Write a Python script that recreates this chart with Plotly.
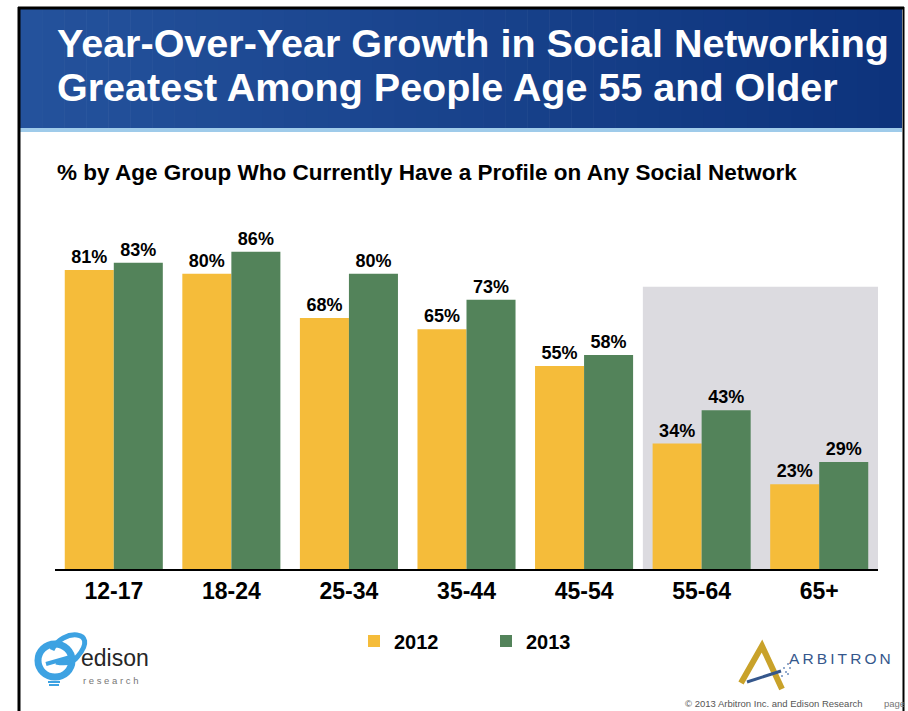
import plotly.graph_objects as go

# Survey results: % with a profile on any social network, by age group
age_groups = ["12-17", "18-24", "25-34", "35-44", "45-54", "55-64", "65+"]
pct_2012 = [81, 80, 68, 65, 55, 34, 23]
pct_2013 = [83, 86, 80, 73, 58, 43, 29]
series_names = ["2012", "2013"]

W, H = 908, 711
FONT = "Liberation Sans, Arial, sans-serif"
ORANGE = "#F5BC3A"
GREEN = "#53835A"


def px(x):
    return x / W


def py(y):
    return 1 - y / H


fig = go.Figure()
fig.add_trace(go.Bar(
    x=age_groups, y=pct_2012, name=series_names[0],
    marker=dict(color=ORANGE, line=dict(width=0)),
    text=pct_2012, texttemplate="%{text}%", textposition="outside",
    textfont=dict(family=FONT, size=18, color="black", weight="bold"),
    cliponaxis=False,
))
fig.add_trace(go.Bar(
    x=age_groups, y=pct_2013, name=series_names[1],
    marker=dict(color=GREEN, line=dict(width=0)),
    text=pct_2013, texttemplate="%{text}%", textposition="outside",
    textfont=dict(family=FONT, size=18, color="black", weight="bold"),
    cliponaxis=False,
))

shapes = []

# header band: horizontal blue gradient built from thin strips
x_left, x_right, y_top, y_bot = 20, 902, 9, 128
c0, c1 = (0x24, 0x52, 0x9c), (0x0d, 0x33, 0x7c)
n = 40
for i in range(n):
    t = i / (n - 1)
    col = "rgb(%d,%d,%d)" % tuple(round(a + (b - a) * t) for a, b in zip(c0, c1))
    xa = x_left + (x_right - x_left) * i / n
    xb = x_left + (x_right - x_left) * (i + 1) / n + 0.6
    shapes.append(dict(type="rect", xref="paper", yref="paper",
                       x0=px(xa), x1=px(min(xb, x_right)), y0=py(y_bot), y1=py(y_top),
                       fillcolor=col, line=dict(width=0), layer="below"))
# light strip under the header
shapes.append(dict(type="rect", xref="paper", yref="paper",
                   x0=px(x_left), x1=px(x_right), y0=py(132), y1=py(128),
                   fillcolor="#9fcbea", line=dict(width=0), layer="below"))

# black frame
shapes += [
    dict(type="line", xref="paper", yref="paper", x0=px(18), x1=px(904), y0=py(8), y1=py(8),
         line=dict(color="black", width=3)),
    dict(type="line", xref="paper", yref="paper", x0=px(19), x1=px(19), y0=py(7), y1=py(711),
         line=dict(color="black", width=3)),
    dict(type="line", xref="paper", yref="paper", x0=px(903.5), x1=px(903.5), y0=py(7), y1=py(711),
         line=dict(color="black", width=2)),
]

# grey highlight behind the 55+ groups
shapes.append(dict(type="rect", xref="x", yref="y", x0=4.5, x1=6.5, y0=0, y1=76.5,
                   fillcolor="#DCDBE0", line=dict(width=0), layer="below"))

# edison logo
BLUE = "#3DA2E2"
shapes += [
    dict(type="circle", xref="paper", yref="paper",
         x0=px(38), x1=px(72), y0=py(677), y1=py(644),
         line=dict(color=BLUE, width=7), fillcolor="rgba(0,0,0,0)"),
    dict(type="path", xref="paper", yref="paper",
         path="M %f,%f C %f,%f %f,%f %f,%f C %f,%f %f,%f %f,%f" % (
             px(52), py(650), px(62), py(628), px(100), py(630), px(78), py(656),
             px(74), py(662), px(66), py(664), px(56), py(662)),
         line=dict(color=BLUE, width=5)),
    dict(type="line", xref="paper", yref="paper", x0=px(46), x1=px(74), y0=py(664), y1=py(656),
         line=dict(color=BLUE, width=4)),
    dict(type="line", xref="paper", yref="paper", x0=px(48), x1=px(60), y0=py(682), y1=py(682),
         line=dict(color=BLUE, width=2)),
    dict(type="line", xref="paper", yref="paper", x0=px(49), x1=px(59), y0=py(685), y1=py(685),
         line=dict(color=BLUE, width=2)),
]

# arbitron logo
GOLD = "#C9A22A"
NAVY = "#35578C"
shapes += [
    dict(type="path", xref="paper", yref="paper",
         path="M %f,%f L %f,%f L %f,%f" % (px(741), py(683), px(762), py(646), px(782), py(689)),
         line=dict(color=GOLD, width=6)),
    dict(type="line", xref="paper", yref="paper", x0=px(747), x1=px(781), y0=py(682), y1=py(671),
         line=dict(color=NAVY, width=3)),
]
for (dx, dy) in [(784, 668), (788, 664), (786, 672), (790, 668), (782, 676), (788, 674)]:
    shapes.append(dict(type="circle", xref="paper", yref="paper",
                       x0=px(dx - 1), x1=px(dx + 1), y0=py(dy + 1), y1=py(dy - 1),
                       fillcolor="#6f8fbd", line=dict(width=0)))

annotations = [
    dict(text="Year-Over-Year Growth in Social Networking", x=px(55), y=py(43),
         xanchor="left", yanchor="middle",
         font=dict(family=FONT, size=39.5, color="white", weight="bold")),
    dict(text="Greatest Among People Age 55 and Older", x=px(55), y=py(87),
         xanchor="left", yanchor="middle",
         font=dict(family=FONT, size=39.5, color="white", weight="bold")),
    dict(text="% by Age Group Who Currently Have a Profile on Any Social Network",
         x=px(55), y=py(172), xanchor="left", yanchor="middle",
         font=dict(family=FONT, size=22.5, color="black", weight="bold")),
    dict(text="edison", x=px(79), y=py(658), xanchor="left", yanchor="middle",
         font=dict(family=FONT, size=23, color="#262626")),
    dict(text="r e s e a r c h", x=px(81), y=py(680), xanchor="left", yanchor="middle",
         font=dict(family=FONT, size=9.5, color="#777777")),
    dict(text="A\u2009R\u2009B\u2009I\u2009T\u2009R\u2009O\u2009N", x=px(787), y=py(658),
         xanchor="left", yanchor="middle",
         font=dict(family=FONT, size=15.5, color=NAVY)),
    dict(text="\u00a9 2013 Arbitron Inc. and Edison Research", x=px(683), y=py(703),
         xanchor="left", yanchor="middle",
         font=dict(family=FONT, size=9.5, color="#555555")),
    dict(text="page", x=px(882), y=py(703), xanchor="left", yanchor="middle",
         font=dict(family=FONT, size=9.5, color="#777777")),
]
for a in annotations:
    a.update(xref="paper", yref="paper", showarrow=False)

fig.update_layout(
    width=W, height=H,
    margin=dict(l=0, r=0, t=0, b=0),
    paper_bgcolor="white", plot_bgcolor="rgba(0,0,0,0)",
    barmode="group", bargap=0.166, bargroupgap=0,
    font=dict(family=FONT),
    shapes=shapes, annotations=annotations,
    showlegend=True,
    legend=dict(orientation="h", x=px(354), y=py(641), xanchor="left", yanchor="middle",
                font=dict(family=FONT, size=20, color="black", weight="bold"),
                bgcolor="rgba(0,0,0,0)", entrywidth=87, itemclick=False),
    xaxis=dict(domain=[px(55), px(878)], range=[-0.5, 6.5], showline=True,
               linecolor="black", linewidth=2, ticks="", showgrid=False, zeroline=False,
               tickfont=dict(family=FONT, size=23, color="black", weight="bold"),
               ticklabelstandoff=0, automargin=False, fixedrange=True),
    yaxis=dict(domain=[py(569), py(236.9)], range=[0, 90], visible=False,
               showgrid=False, zeroline=False, automargin=False, fixedrange=True),
)

fig.write_html("out.html")
